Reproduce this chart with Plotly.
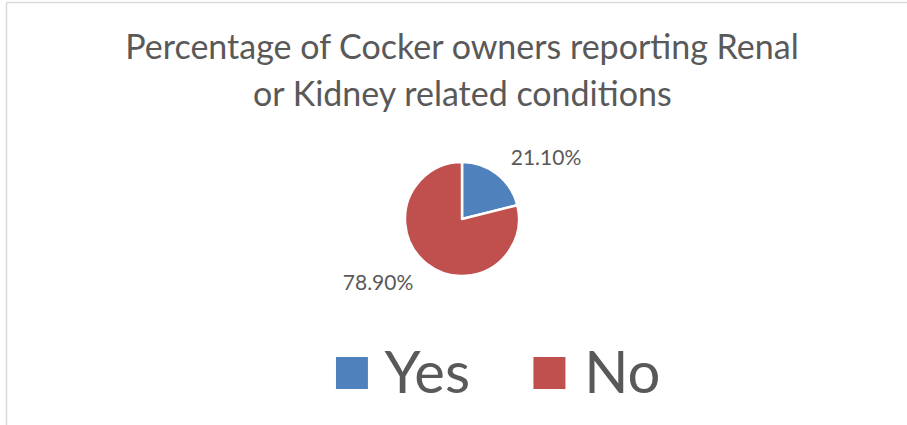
import plotly.graph_objects as go

# data
labels = ["Yes", "No"]
values = [21.10, 78.90]
colors = ["#4F81BD", "#C0504D"]
title_lines = ["Percentage of Cocker owners reporting Renal",
               "or Kidney related conditions"]

FONT = "Lato"
TEXT_COLOR = "#595959"

W, H = 907, 425
cx, cy, r = 462, 219, 57
r_lab = 69  # radius used to place the outside percentage labels


def domain(radius):
    return dict(x=[(cx - radius) / W, (cx + radius) / W],
                y=[(H - cy - radius) / H, (H - cy + radius) / H])


fig = go.Figure()

# the pie itself
fig.add_trace(go.Pie(
    labels=labels,
    values=values,
    sort=False,
    direction="clockwise",
    rotation=0,
    marker=dict(colors=colors, line=dict(color="white", width=2.5)),
    textinfo="none",
    domain=domain(r),
    showlegend=False,
    hoverinfo="label+percent",
))

# invisible copy, a bit larger, only to carry the data labels further out
fig.add_trace(go.Pie(
    labels=labels,
    values=values,
    sort=False,
    direction="clockwise",
    rotation=0,
    marker=dict(colors=["rgba(0,0,0,0)"] * len(labels),
                line=dict(width=0)),
    texttemplate="%{value:.2f}%",
    textposition="outside",
    textfont=dict(family=FONT, size=21, color=TEXT_COLOR),
    domain=domain(r_lab),
    showlegend=False,
    hoverinfo="skip",
))

# title, two lines with Excel-like spacing
fig.update_layout(
    title=dict(text=title_lines[0], x=462 / W, xanchor="center",
               y=1 - 47 / H, yanchor="middle",
               font=dict(family=FONT, size=34, color=TEXT_COLOR)),
)
fig.add_annotation(text=title_lines[1], xref="paper", yref="paper",
                   x=462 / W, y=1 - 93 / H, xanchor="center", yanchor="middle",
                   showarrow=False,
                   font=dict(family=FONT, size=34, color=TEXT_COLOR))

# big legend drawn as text
legend_text = "    ".join(
    f"<span style='color:{c};font-size:66px'>■</span> {lab}"
    for lab, c in zip(labels, colors)
)
fig.add_annotation(text=legend_text, xref="paper", yref="paper",
                   x=496 / W, y=1 - 367 / H, xanchor="center", yanchor="middle",
                   showarrow=False,
                   font=dict(family=FONT, size=58, color=TEXT_COLOR))

# chart frame (top and left edges visible)
fig.add_shape(type="line", xref="paper", yref="paper",
              x0=6.5 / W, x1=1, y0=1 - 2.5 / H, y1=1 - 2.5 / H,
              line=dict(color="#D9D9D9", width=1.5))
fig.add_shape(type="line", xref="paper", yref="paper",
              x0=6.5 / W, x1=6.5 / W, y0=0, y1=1 - 2.5 / H,
              line=dict(color="#D9D9D9", width=1.5))

fig.update_layout(
    width=W, height=H,
    margin=dict(l=0, r=0, t=0, b=0),
    paper_bgcolor="white",
    plot_bgcolor="white",
    showlegend=False,
)

fig.write_html("out.html", config={"displayModeBar": False},
               post_script="document.body.style.margin = '0';")
